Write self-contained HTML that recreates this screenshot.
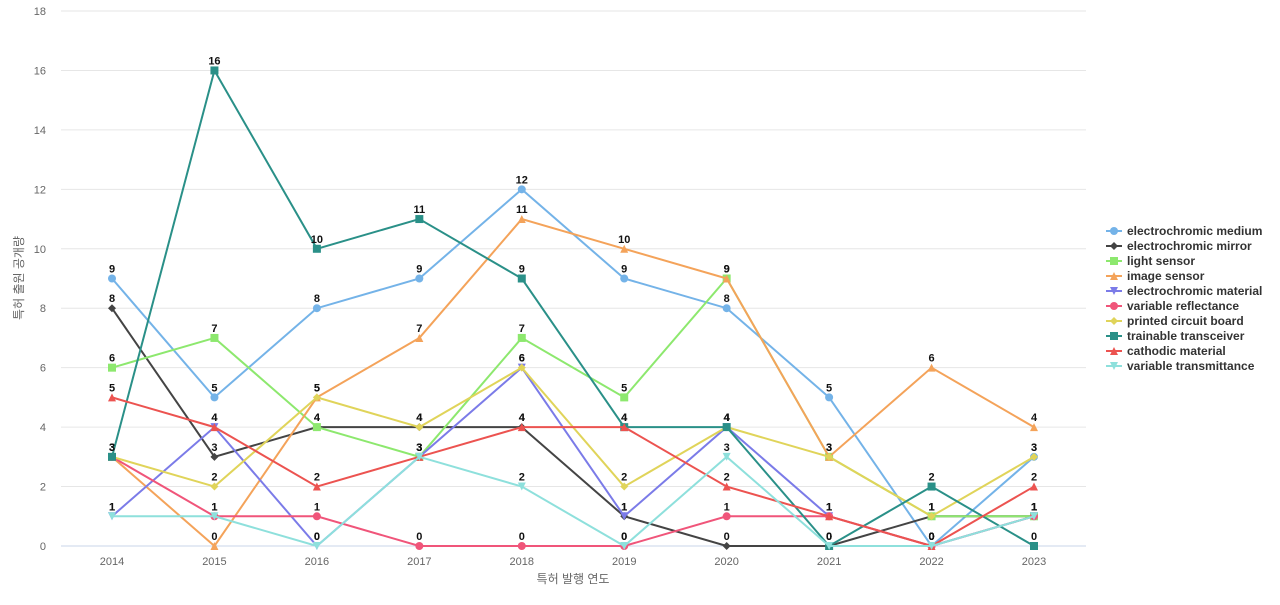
<!DOCTYPE html>
<html><head><meta charset="utf-8">
<style>
body{margin:0;background:#fff;font-family:"Liberation Sans","Noto Sans CJK KR",sans-serif;}
svg text{font-family:"Liberation Sans","Noto Sans CJK KR",sans-serif;}
</style></head>
<body>
<svg id="chart" width="1280" height="600" xmlns="http://www.w3.org/2000/svg"></svg>
<script>
const years=[2014,2015,2016,2017,2018,2019,2020,2021,2022,2023];
const yTicks=[0,2,4,6,8,10,12,14,16,18];
const seriesNames=["electrochromic medium","electrochromic mirror","light sensor","image sensor","electrochromic material","variable reflectance","printed circuit board","trainable transceiver","cathodic material","variable transmittance"];
const sMedium=[9,5,8,9,12,9,8,5,0,3];
const sMirror=[8,3,4,4,4,1,0,0,1,1];
const sLight=[6,7,4,3,7,5,9,3,1,1];
const sImage=[3,0,5,7,11,10,9,3,6,4];
const sMaterial=[1,4,0,3,6,1,4,1,0,1];
const sReflect=[3,1,1,0,0,0,1,1,0,1];
const sPcb=[3,2,5,4,6,2,4,3,1,3];
const sTrans=[3,16,10,11,9,4,4,0,2,0];
const sCathodic=[5,4,2,3,4,4,2,1,0,2];
const sTransmit=[1,1,0,3,2,0,3,0,0,1];
const allSeries=[sMedium,sMirror,sLight,sImage,sMaterial,sReflect,sPcb,sTrans,sCathodic,sTransmit];
const colors=["#74b3e8","#444444","#8de86e","#f4a35a","#7b7be8","#f0557a","#e0d45a","#2a9088","#ec5350","#8ee0dc"];
const markers=["circle","diamond","square","tri","trid","circle","diamond","square","tri","trid"];
const NS="http://www.w3.org/2000/svg";
const svg=document.getElementById("chart");
const X0=112,X1=1034,Y0=546,Y1=11,YMAX=18;
function xs(i){return X0+(X1-X0)*i/(years.length-1);}
function ys(v){return Y0-(Y0-Y1)*v/YMAX;}
function mk(tag,attrs,parent){const e=document.createElementNS(NS,tag);for(const k in attrs)e.setAttribute(k,attrs[k]);(parent||svg).appendChild(e);return e;}
// grid
yTicks.forEach(t=>{
 const g=mk("line",{x1:61,x2:1086,y1:ys(t),y2:ys(t),stroke:t===0?"#c8d4e8":"#e6e6e6","stroke-width":1});
 
 
 const l=mk("text",{x:46,y:ys(t)+4,"text-anchor":"end","font-size":11,fill:"#666"});
 l.textContent=t;
 
 
});
years.forEach((yr,i)=>{
 const l=mk("text",{x:xs(i),y:565,"text-anchor":"middle","font-size":11,fill:"#666"});
 l.textContent=yr;
 
 
});
const xt=mk("text",{x:573,y:583,"text-anchor":"middle","font-size":12,fill:"#666"});
xt.textContent="특허 발행 연도";


const yt=mk("text",{x:0,y:0,"text-anchor":"middle","font-size":12,fill:"#666",transform:"translate(23,278) rotate(-90)"});
yt.textContent="특허 출원 공개량";


function marker(type,x,y,c,parent,s){
 s=s||4;
 if(type==="circle")return mk("circle",{cx:x,cy:y,r:s,fill:c},parent);
 if(type==="square")return mk("rect",{x:x-s,y:y-s,width:2*s,height:2*s,fill:c},parent);
 if(type==="diamond")return mk("polygon",{points:`${x},${y-s} ${x+s},${y} ${x},${y+s} ${x-s},${y}`,fill:c},parent);
 if(type==="tri")return mk("polygon",{points:`${x},${y-s} ${x+s},${y+s} ${x-s},${y+s}`,fill:c},parent);
 return mk("polygon",{points:`${x-s},${y-s} ${x+s},${y-s} ${x},${y+s}`,fill:c},parent);
}
allSeries.forEach((arr,si)=>{
 const g=mk("g",{});
 
 
 const p=mk("polyline",{points:arr.map((v,i)=>xs(i)+","+ys(v)).join(" "),fill:"none",stroke:colors[si],"stroke-width":2},g);
 
 
 arr.forEach((v,i)=>{
  const m=marker(markers[si],xs(i),ys(v),colors[si],g);
  
  
  const t=mk("text",{x:xs(i),y:ys(v)-6,"text-anchor":"middle","font-size":11,"font-weight":"bold",fill:"#111"},g);
  t.textContent=v;
  
  
 });
});
// legend
seriesNames.forEach((n,si)=>{
 const y=231+si*15;
 const g=mk("g",{});
 
 
 mk("line",{x1:1106,x2:1122,y1:y,y2:y,stroke:colors[si],"stroke-width":2},g);
 marker(markers[si],1114,y,colors[si],g,4);
 const t=mk("text",{x:1127,y:y+4,"font-size":12,"font-weight":"bold",fill:"#333"},g);
 t.textContent=n;
});
</script>
</body></html>
